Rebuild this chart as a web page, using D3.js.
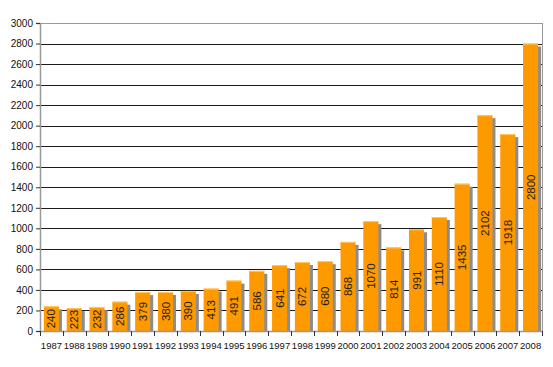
<!DOCTYPE html>
<html><head><meta charset="utf-8">
<script src="https://cdn.jsdelivr.net/npm/d3@7"></script>
<style>body{margin:0;background:#fff}svg{display:block}</style>
</head><body>
<script>
const years = ["1987","1988","1989","1990","1991","1992","1993","1994","1995","1996","1997","1998","1999","2000","2001","2002","2003","2004","2005","2006","2007","2008"];
const values = [240,223,232,286,379,380,390,413,491,586,641,672,680,868,1070,814,991,1110,1435,2102,1918,2800];
const yTicks = [0,200,400,600,800,1000,1200,1400,1600,1800,2000,2200,2400,2600,2800,3000];

const W=553,H=367;
const pL=40,pR=542,pT=23,pB=331;
const svg=d3.select("body").append("svg").attr("width",W).attr("height",H);
const x=d3.scaleBand().domain(years).range([pL,pR]).paddingInner(0.34).paddingOuter(0.17);
const xb=d3.scaleBand().domain(years).range([pL,pR]);
const y=d3.scaleLinear().domain([0,3000]).range([pB,pT]);

// grid
svg.append("g").selectAll("line").data(yTicks.filter(d=>d>0&&d<3000)).join("line")
  .attr("x1",pL).attr("x2",pR).attr("y1",d=>Math.round(y(d))+0.5).attr("y2",d=>Math.round(y(d))+0.5)
  .attr("stroke","#1a1a1a").attr("stroke-width",1);
// border top/right
svg.append("line").attr("x1",pL).attr("x2",pR+0.5).attr("y1",pT+0.5).attr("y2",pT+0.5).attr("stroke","#999");
svg.append("line").attr("x1",pR+0.5).attr("x2",pR+0.5).attr("y1",pT).attr("y2",pB).attr("stroke","#999");

// shadows
svg.append("g").selectAll("rect").data(values).join("rect")
  .attr("x",(d,i)=>x(years[i])+3).attr("y",d=>y(d)+3).attr("width",x.bandwidth())
  .attr("height",d=>pB-y(d)-3).attr("fill","#8c8c8c");
// bars
svg.append("g").selectAll("rect").data(values).join("rect")
  .attr("x",(d,i)=>x(years[i])).attr("y",d=>y(d)).attr("width",x.bandwidth())
  .attr("height",d=>pB-y(d)).attr("fill","#FF9900");
svg.append("g").selectAll("line").data(values).join("line")
  .attr("x1",(d,i)=>x(years[i])).attr("x2",(d,i)=>x(years[i])+x.bandwidth())
  .attr("y1",d=>y(d)+0.5).attr("y2",d=>y(d)+0.5).attr("stroke","#FFC766");

// value labels
svg.append("g").selectAll("text").data(values).join("text")
  .attr("transform",(d,i)=>`translate(${x(years[i])+x.bandwidth()/2+4},${(y(d)+pB)/2}) rotate(-90)`)
  .attr("text-anchor","middle").attr("font-family","Liberation Sans, Arial, sans-serif")
  .attr("font-size",11.5).attr("fill","#222").text(d=>d);

// axes
const ya=svg.append("g").attr("transform",`translate(${pL},0)`)
  .call(d3.axisLeft(y).tickValues(yTicks).tickSize(4).tickPadding(3).tickFormat(d3.format("d")));
ya.select(".domain").attr("stroke","#999").attr("stroke-width",1.5);
ya.selectAll(".tick line").attr("stroke","#333");
ya.selectAll("text").attr("font-family","Liberation Sans, Arial, sans-serif").attr("font-size",10).attr("fill","#111");

const xa=svg.append("g").attr("transform",`translate(0,${pB})`)
  .call(d3.axisBottom(xb).tickSize(0).tickPadding(11));
xa.select(".domain").attr("stroke","#999").attr("stroke-width",1.5);
xa.selectAll("text").attr("font-family","Liberation Sans, Arial, sans-serif").attr("font-size",9.5).attr("fill","#111");
xa.append("g").selectAll("line").data(years.concat(["end"])).join("line")
  .attr("x1",(d,i)=>Math.round(pL+i*xb.step())+0.5).attr("x2",(d,i)=>Math.round(pL+i*xb.step())+0.5)
  .attr("y1",0).attr("y2",5).attr("stroke","#333");
</script>
</body></html>
